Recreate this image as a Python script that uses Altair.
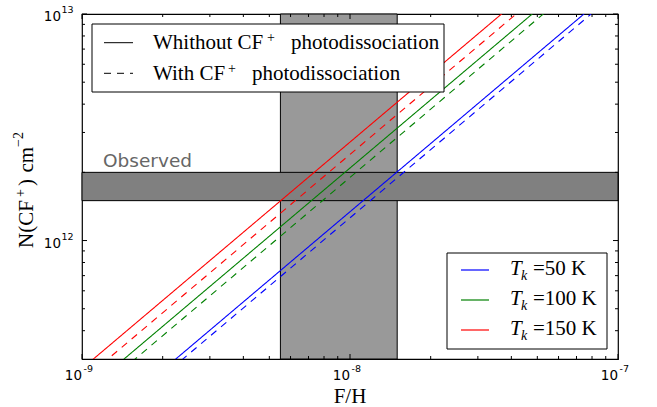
import altair as alt
import pandas as pd

# ---------------- data ----------------
fh = [1e-9, 1e-8, 1e-7]
# N(CF+) read at F/H = 1e-9, 1e-8, 1e-7
n50_without = [1.34e11, 1.34e12, 1.34e13]
n50_with = [1.26e11, 1.26e12, 1.26e13]
n100_without = [2.09e11, 2.09e12, 2.09e13]
n100_with = [1.90e11, 1.90e12, 1.90e13]
n150_without = [2.72e11, 2.72e12, 2.72e13]
n150_with = [2.40e11, 2.40e12, 2.40e13]

temps = ["50", "100", "150"]
temp_colors = ["#0000ff", "#008000", "#ff0000"]
kinds = ["without", "with"]

band_fh = [5.5e-9, 1.5e-8]          # F/H range (vertical band)
band_n = [1.5e12, 2.0e12]           # observed N(CF+) (horizontal band)

x_domain = [1e-9, 1e-7]
y_domain = [3e11, 1e13]

x_major = [1e-9, 1e-8, 1e-7]
x_minor = [2e-9, 3e-9, 4e-9, 5e-9, 6e-9, 7e-9, 8e-9, 9e-9,
           2e-8, 3e-8, 4e-8, 5e-8, 6e-8, 7e-8, 8e-8, 9e-8]
x_exp = ["-9", "-8", "-7"]
y_major = [1e12, 1e13]
y_minor = [4e11, 5e11, 6e11, 7e11, 8e11, 9e11,
           2e12, 3e12, 4e12, 5e12, 6e12, 7e12, 8e12, 9e12]
y_exp = ["12", "13"]

series = [
    ("50", "without", n50_without), ("50", "with", n50_with),
    ("100", "without", n100_without), ("100", "with", n100_with),
    ("150", "without", n150_without), ("150", "with", n150_with),
]
rows = []
for t, k, vals in series:
    for x, v in zip(fh, vals):
        rows.append({"fh": x, "n": v, "T": t, "kind": k})
lines_df = pd.DataFrame(rows)

W, H = 536, 345
SERIF = "Liberation Serif"
SANS = "DejaVu Sans"
FS = 21
one = pd.DataFrame({"a": [0]})

xs = alt.Scale(type="log", domain=x_domain, nice=False)
ys = alt.Scale(type="log", domain=y_domain, nice=False)

vband = alt.Chart(pd.DataFrame({"x": [band_fh[0]], "x2": [band_fh[1]],
                                "y": [y_domain[0]], "y2": [y_domain[1]]})).mark_rect(
    fill="#999999", stroke="black", strokeWidth=1).encode(
    x=alt.X("x:Q", scale=xs, axis=None), x2="x2",
    y=alt.Y("y:Q", scale=ys, axis=None), y2="y2")

hband = alt.Chart(pd.DataFrame({"x": [x_domain[0]], "x2": [x_domain[1]],
                                "y": [band_n[0]], "y2": [band_n[1]]})).mark_rect(
    fill="#808080", stroke="black", strokeWidth=1).encode(
    x=alt.X("x:Q", scale=xs, axis=None), x2="x2",
    y=alt.Y("y:Q", scale=ys, axis=None), y2="y2")

lines = alt.Chart(lines_df).mark_line(clip=True, strokeWidth=1.1).encode(
    x=alt.X("fh:Q", scale=xs, axis=None),
    y=alt.Y("n:Q", scale=ys, axis=None),
    color=alt.Color("T:N", scale=alt.Scale(domain=temps, range=temp_colors), legend=None),
    strokeDash=alt.StrokeDash("kind:N", scale=alt.Scale(domain=kinds, range=[[1, 0], [7, 6]]), legend=None),
    order="fh:Q")


def txt(s, x, y, size, font=SERIF, align="left", angle=0, style="normal", color="black"):
    return alt.Chart(one).mark_text(text=s, align=align, baseline="alphabetic", font=font,
                                    fontSize=size, fontStyle=style, angle=angle, color=color).encode(
        x=alt.value(x), y=alt.value(y))


def rule(x, x2, y, y2, color="black", dash=None, width=1.0):
    kw = {}
    if dash is not None:
        kw["strokeDash"] = dash
    return alt.Chart(one).mark_rule(color=color, strokeWidth=width, **kw).encode(
        x=alt.value(x), x2=alt.value(x2), y=alt.value(y), y2=alt.value(y2))


layers = [vband, hband, lines]

# Observed annotation
layers.append(txt("Observed", 21, 153, 18.5, font=SANS, color="#666666"))

# ticks (inward, all four sides)
def xticks(vals, ln):
    d = alt.Chart(pd.DataFrame({"v": vals}))
    b = d.mark_rule(color="black", strokeWidth=1).encode(
        x=alt.X("v:Q", scale=xs, axis=None), y=alt.value(H), y2=alt.value(H - ln))
    t = d.mark_rule(color="black", strokeWidth=1).encode(
        x=alt.X("v:Q", scale=xs, axis=None), y=alt.value(0), y2=alt.value(ln))
    return [b, t]


def yticks(vals, ln):
    d = alt.Chart(pd.DataFrame({"v": vals}))
    l = d.mark_rule(color="black", strokeWidth=1).encode(
        y=alt.Y("v:Q", scale=ys, axis=None), x=alt.value(0), x2=alt.value(ln))
    r = d.mark_rule(color="black", strokeWidth=1).encode(
        y=alt.Y("v:Q", scale=ys, axis=None), x=alt.value(W), x2=alt.value(W - ln))
    return [l, r]

layers += xticks(x_major, 5) + xticks(x_minor, 3) + yticks(y_major, 5) + yticks(y_minor, 3)

# tick labels
xl = alt.Chart(pd.DataFrame({"v": x_major, "e": x_exp}))
layers.append(xl.mark_text(text="10", align="right", baseline="alphabetic", font=SANS, fontSize=13.5).encode(
    x=alt.X("v:Q", scale=xs, axis=None), y=alt.value(366)))
layers.append(xl.mark_text(align="left", baseline="alphabetic", font=SANS, fontSize=9.5, dx=1.5).encode(
    x=alt.X("v:Q", scale=xs, axis=None), y=alt.value(357.5), text="e:N"))
yl = alt.Chart(pd.DataFrame({"v": y_major, "e": y_exp}))
layers.append(yl.mark_text(text="10", align="right", baseline="alphabetic", font=SANS, fontSize=13.5, dy=7).encode(
    y=alt.Y("v:Q", scale=ys, axis=None), x=alt.value(-21)))
layers.append(yl.mark_text(align="left", baseline="alphabetic", font=SANS, fontSize=9.5, dy=-1).encode(
    y=alt.Y("v:Q", scale=ys, axis=None), x=alt.value(-20.5), text="e:N"))

# axis titles
layers.append(txt("F/H", 268, 389, FS, align="center"))
layers += [
    txt("N(CF", -49, 234, FS, angle=270),
    txt("+", -57, 183, 14, angle=270),
    txt(")", -49, 172, FS, angle=270),
    txt("cm", -49, 158.5, FS, angle=270),
    txt("\u22122", -59, 133, 14, angle=270),
]

# legend 1 (line styles)
layers.append(alt.Chart(one).mark_rect(fill="white", stroke="black", strokeWidth=1).encode(
    x=alt.value(10), x2=alt.value(362), y=alt.value(10), y2=alt.value(78)))
layers.append(rule(22, 51, 28.7, 28.7))
layers.append(rule(22, 51, 59.3, 59.3, dash=[7, 6]))
layers += [
    txt("Whithout CF", 71, 35, FS),
    txt("+", 185, 28, 14),
    txt("photodissociation", 209, 35, FS),
    txt("With CF", 71, 65.5, FS),
    txt("+", 146, 58.5, 14),
    txt("photodissociation", 170, 65.5, FS),
]

# legend 2 (temperatures)
layers.append(alt.Chart(one).mark_rect(fill="white", stroke="black", strokeWidth=1).encode(
    x=alt.value(365), x2=alt.value(525), y=alt.value(239), y2=alt.value(335)))
for i, (t, c) in enumerate(zip(temps, temp_colors)):
    yy = 256 + 30 * i
    layers.append(rule(379, 407, yy, yy, color=c, width=1.2))
    layers.append(txt("T", 428, yy + 5, FS, style="italic"))
    layers.append(txt("k", 439, yy + 10, 14, style="italic"))
    layers.append(txt("=" + t + " K", 451, yy + 5, FS))

chart = alt.layer(*layers).properties(
    width=W, height=H,
    autosize=alt.AutoSizeParams(type="none"),
    padding={"left": 82, "top": 14, "right": 39, "bottom": 48},
    background="white",
).configure_view(stroke="black", strokeWidth=1.2)

chart.save("out.html", embed_options={"renderer": "svg", "actions": False})
